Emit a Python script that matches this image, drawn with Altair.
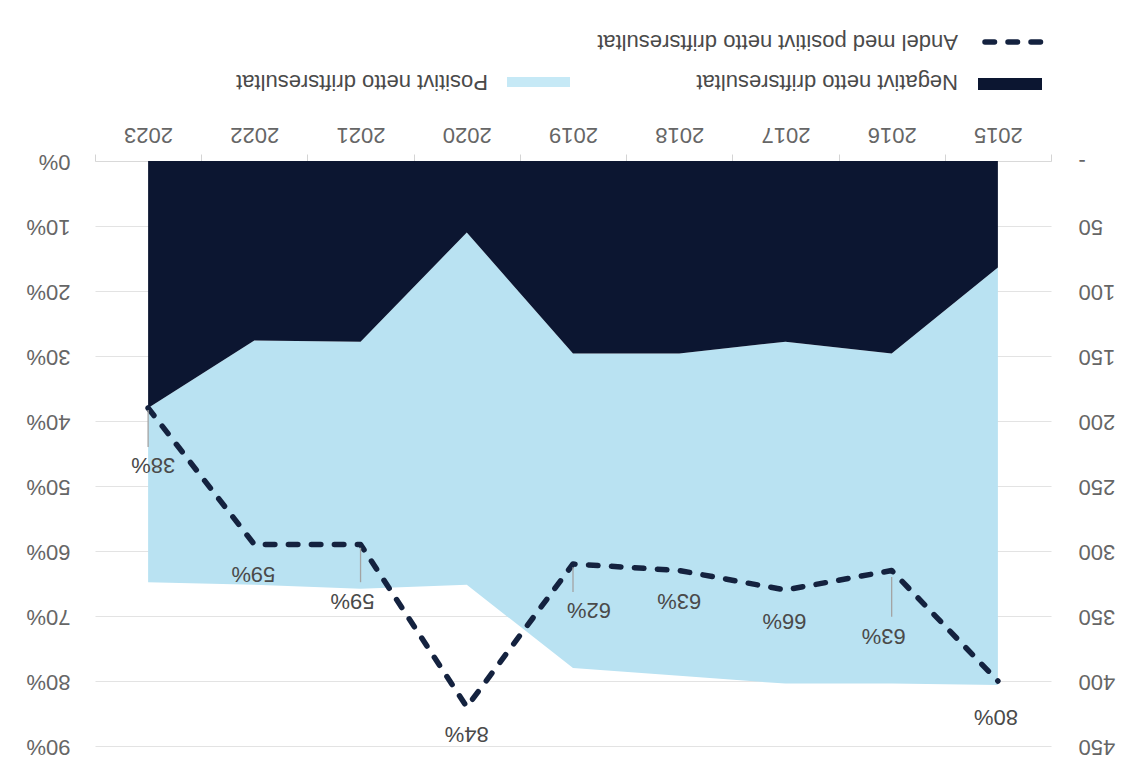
import altair as alt
import pandas as pd

# ---------------- data ----------------
years = [2015, 2016, 2017, 2018, 2019, 2020, 2021, 2022, 2023]
negative_count = [82, 148, 139, 148, 148, 55, 139, 138, 190]
positive_count = [321, 254, 263, 248, 242, 271, 190, 188, 134]
share_positive = [0.80, 0.63, 0.66, 0.63, 0.62, 0.84, 0.59, 0.59, 0.38]
count_ticks = [0, 50, 100, 150, 200, 250, 300, 350, 400, 450]
pct_ticks = [0.0, 0.1, 0.2, 0.3, 0.4, 0.5, 0.6, 0.7, 0.8, 0.9]
legend_labels = [
    "Negativt netto driftsresultat",
    "Positivt netto driftsresultat",
    "Andel med positivt netto driftsresultat",
]

# ---------------- styling ----------------
FONT = "Liberation Sans"
NAVY = "#0c1631"
LINE_NAVY = "#14223f"
LIGHT = "#b9e2f2"
LABEL_GREY = "#666666"
TEXT_DARK = "#4a4a4a"

# screen offsets of the data labels (dx, dy in px, picture is upside down)
label_shift = {2015: (-2, 36), 2016: (-8, 65), 2017: (-1, 31), 2018: (0, 30),
               2019: (16, 46), 2020: (0, 27), 2021: (-8, 56), 2022: (-1, 29),
               2023: (5, 57)}
# leader line spans (start, end) relative to the point, in share units
leader_span = {2016: (0.010, 0.071), 2019: (0.005, 0.043),
               2021: (0.005, 0.058), 2023: (0.003, 0.060)}

df = pd.DataFrame({"year": years, "negative": negative_count,
                   "positive": positive_count, "share": share_positive})
df["total"] = df["negative"] + df["positive"]

lead_rows = []
for y, (s, e) in leader_span.items():
    sh = share_positive[years.index(y)]
    lead_rows.append({"year": y, "lead_start": sh + s, "lead_end": sh + e})
lead_df = pd.DataFrame(lead_rows)

x_axis = alt.Axis(orient="top", title=None, labelAngle=180, labelAlign="center",
                  labelBaseline="middle", labelFont=FONT, labelFontSize=22,
                  labelColor=LABEL_GREY, labelPadding=20, ticks=True, tickSize=7,
                  tickColor="#d4d4d4", tickBand="extent", domain=True,
                  domainColor="#d9d9d9", grid=False)


def xenc():
    return alt.X("year:O", sort="descending", bandPosition=0.5,
                 scale=alt.Scale(type="band", paddingInner=0, paddingOuter=0),
                 axis=x_axis)


count_scale = alt.Scale(domain=[0, 450], reverse=True, nice=False, zero=True)
count_axis = alt.Axis(orient="right", title=None, values=count_ticks,
                      labelExpr="datum.value == 0 ? '-\u00a0\u00a0\u00a0\u00a0' : datum.label",
                      labelAngle=180, labelAlign="right", labelBaseline="middle",
                      labelFont=FONT, labelFontSize=22, labelColor=LABEL_GREY,
                      labelPadding=27, ticks=False, tickSize=0, domain=False,
                      grid=True, gridColor="#e3e3e3", gridWidth=1)

pct_scale = alt.Scale(domain=[0, 0.9], reverse=True, nice=False, zero=True)
pct_axis = alt.Axis(orient="left", title=None, values=pct_ticks, format=".0%",
                    labelAngle=180, labelAlign="left", labelBaseline="middle",
                    labelFont=FONT, labelFontSize=22, labelColor=LABEL_GREY,
                    labelPadding=25, ticks=False, tickSize=0, domain=False,
                    grid=False)


def ycount(field):
    return alt.Y(field, type="quantitative", scale=count_scale, axis=count_axis, stack=None)


def ypct(field):
    return alt.Y(field, type="quantitative", scale=pct_scale, axis=pct_axis)


# ---------------- count layers (areas) ----------------
area_pos = alt.Chart(df).mark_area(color=LIGHT, opacity=1).encode(
    x=xenc(), y=ycount("total"), y2="negative:Q")
area_neg = alt.Chart(df).mark_area(color=NAVY, opacity=1).encode(
    x=xenc(), y=ycount("negative"))
count_layer = alt.layer(area_pos, area_neg)

# ---------------- percent layers (line + labels) ----------------
line = alt.Chart(df).mark_line(color=LINE_NAVY, strokeWidth=5.5, strokeDash=[9.5, 13.5],
                               strokeCap="round", strokeJoin="round").encode(
    x=xenc(), y=ypct("share"))
leaders = alt.Chart(lead_df).mark_rule(color="#a3a3a3", strokeWidth=1.3).encode(
    x=xenc(), y=ypct("lead_start"), y2="lead_end:Q")

label_layers = []
for yr in years:
    dx, dy = label_shift[yr]
    label_layers.append(
        alt.Chart(df).transform_filter(alt.datum.year == yr).mark_text(
            angle=180, align="center", baseline="middle", font=FONT, fontSize=22,
            color=TEXT_DARK, dx=-dx, dy=-dy).encode(
            x=xenc(), y=ypct("share"), text=alt.Text("share:Q", format=".0%")))

pct_layer = alt.layer(line, leaders, *label_layers)

# ---------------- manual upside-down legend ----------------
one = alt.Data(values=[{"k": 1}])
legend_parts = [
    alt.Chart(one).mark_rect(color=NAVY).encode(
        x=alt.value(883), x2=alt.value(947), y=alt.value(-83), y2=alt.value(-71)),
    alt.Chart(alt.Data(values=[{"label": legend_labels[0]}])).mark_text(
        angle=180, align="left", baseline="middle", font=FONT, fontSize=22,
        color=TEXT_DARK).encode(x=alt.value(863), y=alt.value(-79), text="label:N"),
    alt.Chart(one).mark_rect(color="#c6e9f6").encode(
        x=alt.value(412), x2=alt.value(475), y=alt.value(-84), y2=alt.value(-74)),
    alt.Chart(alt.Data(values=[{"label": legend_labels[1]}])).mark_text(
        angle=180, align="left", baseline="middle", font=FONT, fontSize=22,
        color=TEXT_DARK).encode(x=alt.value(393), y=alt.value(-79), text="label:N"),
    alt.Chart(one).mark_rule(color=LINE_NAVY, strokeWidth=5.5, strokeDash=[9.5, 13.5],
                             strokeCap="round").encode(
        x=alt.value(890), x2=alt.value(946), y=alt.value(-119)),
    alt.Chart(alt.Data(values=[{"label": legend_labels[2]}])).mark_text(
        angle=180, align="left", baseline="middle", font=FONT, fontSize=22,
        color=TEXT_DARK).encode(x=alt.value(863), y=alt.value(-119), text="label:N"),
]

border = alt.Chart(one).mark_rect(fill="transparent", stroke="#dcdcdc", strokeWidth=1).encode(
    x=alt.value(-90), x2=alt.value(1047), y=alt.value(-156), y2=alt.value(640))

chart = alt.layer(border, count_layer, pct_layer, *legend_parts).resolve_scale(
    y="independent"
).properties(
    width=956, height=585,
    autosize=alt.AutoSizeParams(type="none"),
    padding={"left": 87, "top": 153, "right": 86, "bottom": 20},
    background="white",
).configure_view(strokeWidth=0)

chart.save("out.html", embed_options={"renderer": "svg", "actions": False})
